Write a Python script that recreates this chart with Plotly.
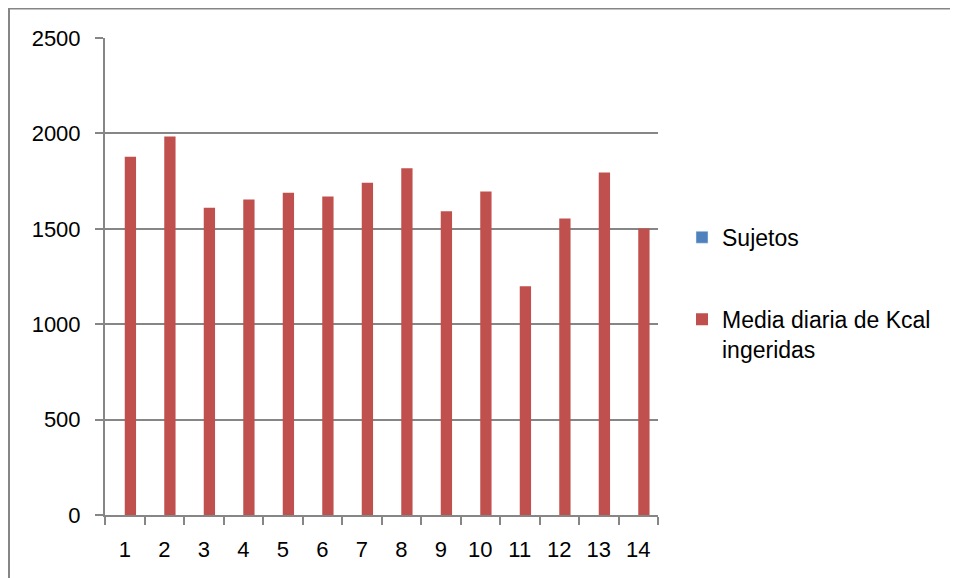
import plotly.graph_objects as go

categories = ["1", "2", "3", "4", "5", "6", "7", "8", "9", "10", "11", "12", "13", "14"]
kcal = [1878, 1984, 1610, 1654, 1689, 1669, 1742, 1817, 1592, 1695, 1199, 1554, 1795, 1502]
sujetos = [None, None, None, None, None, None, None, None, None, None, None, None, None, None]
y_ticks = [0, 500, 1000, 1500, 2000, 2500]

GRID = "#868686"
RED = "#C0504D"
BLUE = "#4F81BD"
FONT = "Liberation Sans"

OFF = 8  # page body margin
W, H = 958 - OFF, 578 - OFF
L, R, T, B = 105 - OFF, 658 - OFF, 38 - OFF, 515.5 - OFF

fig = go.Figure()
fig.add_trace(go.Bar(x=categories, y=sujetos, name="Sujetos", marker_color=BLUE,
                     width=0.286, offset=-0.286, legendgroup="a"))
fig.add_trace(go.Bar(x=categories, y=kcal, name="Media diaria de Kcal<br>ingeridas",
                     marker=dict(color=RED, line=dict(width=0)),
                     width=0.286, offset=0, legendgroup="b"))

def px_x(p):
    return (p - OFF - L) / (R - L)

def px_y(p):
    return (B - (p - OFF)) / (B - T)

fig.add_shape(type="rect", xref="paper", yref="paper",
              x0=px_x(9), x1=px_x(1010), y0=px_y(8.5), y1=px_y(620),
              line=dict(color=GRID, width=2), fillcolor="rgba(0,0,0,0)", layer="below")

fig.update_layout(
    width=W, height=H,
    margin=dict(l=L, r=W - R, t=T, b=H - B, pad=0),
    paper_bgcolor="white", plot_bgcolor="white",
    barmode="overlay",
    font=dict(family=FONT, size=22, color="black"),
    showlegend=True,
    legend=dict(x=px_x(682), xanchor="left", y=px_y(216), yanchor="top",
                traceorder="grouped", tracegroupgap=49, valign="top",
                font=dict(family=FONT, size=23, color="black"),
                bgcolor="rgba(0,0,0,0)"),
    xaxis=dict(type="category", categoryorder="array", categoryarray=categories,
               range=[-0.5, 13.5], showgrid=False, showline=True, linecolor=GRID,
               linewidth=2, ticks="outside", tickson="boundaries", ticklen=8,
               tickcolor=GRID, tickwidth=2, ticklabelstandoff=14, zeroline=False),
    yaxis=dict(range=[0, 2500], tickvals=y_ticks, showgrid=True, gridcolor=GRID,
               gridwidth=2, showline=True, linecolor=GRID, linewidth=2,
               ticks="outside", ticklen=8, tickcolor=GRID, tickwidth=2,
               ticklabelstandoff=10, zeroline=False),
)

fig.write_html("out.html")
